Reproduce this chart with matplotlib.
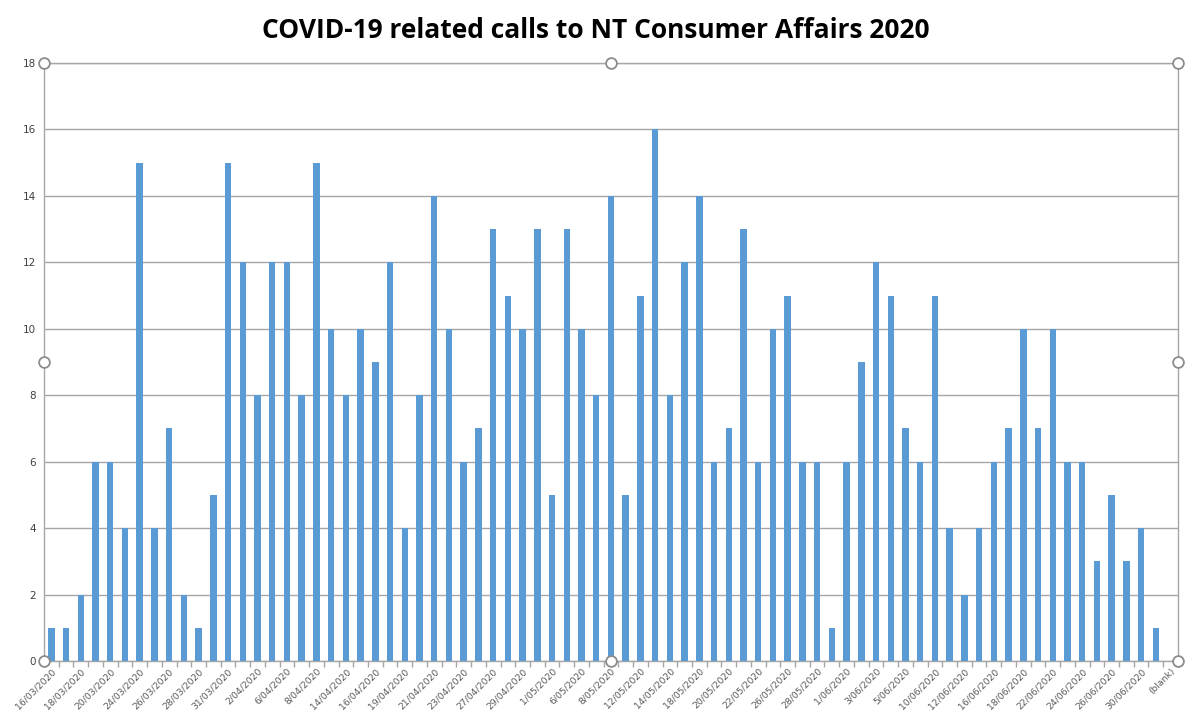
import matplotlib.pyplot as plt
import numpy as np

# calls per day (77 categories, the last one is "(blank)" with no count)
calls = [1, 1, 2, 6, 6, 4, 15, 4, 7, 2,
         1, 5, 15, 12, 8, 12, 12, 8, 15, 10,
         8, 10, 9, 12, 4, 8, 14, 10, 6, 7,
         13, 11, 10, 13, 5, 13, 10, 8, 14, 5,
         11, 16, 8, 12, 14, 6, 7, 13, 6, 10,
         11, 6, 6, 1, 6, 9, 12, 11, 7, 6,
         11, 4, 2, 4, 6, 7, 10, 7, 10, 6,
         6, 3, 5, 3, 4, 1, 0]

# only every other category is labelled on the axis
tick_labels = ['16/03/2020', '18/03/2020', '20/03/2020', '24/03/2020', '26/03/2020',
               '28/03/2020', '31/03/2020', '2/04/2020', '6/04/2020', '8/04/2020',
               '14/04/2020', '16/04/2020', '19/04/2020', '21/04/2020', '23/04/2020',
               '27/04/2020', '29/04/2020', '1/05/2020', '6/05/2020', '8/05/2020',
               '12/05/2020', '14/05/2020', '18/05/2020', '20/05/2020', '22/05/2020',
               '26/05/2020', '28/05/2020', '1/06/2020', '3/06/2020', '5/06/2020',
               '10/06/2020', '12/06/2020', '16/06/2020', '18/06/2020', '22/06/2020',
               '24/06/2020', '26/06/2020', '30/06/2020', '(blank)']

title = 'COVID-19 related calls to NT Consumer Affairs 2020'

n = len(calls)
x = np.arange(n)

fig = plt.figure(figsize=(11.92, 7.16), dpi=100)
ax = fig.add_axes([0.0369, 0.0768, 0.9513, 0.8352])

ax.bar(x, calls, width=0.44, color='#5B9BD5', zorder=3)

ax.set_xlim(-0.5, n - 0.5)
ax.set_ylim(0, 18)
ax.set_yticks(np.arange(0, 19, 2))
ax.yaxis.grid(True, color='#A6A6A6', linewidth=1.0, zorder=0)
ax.tick_params(axis='y', length=0, labelsize=7.5, labelcolor='#404040', pad=6)

ax.set_xticks(x[::2])
ax.set_xticklabels(tick_labels, rotation=45, ha='right', rotation_mode='anchor',
                   fontsize=6.7, color='#595959')
ax.set_xticks(np.arange(-0.5, n, 1), minor=True)
ax.tick_params(axis='x', which='major', length=0, pad=4)
ax.tick_params(axis='x', which='minor', length=4, color='#A6A6A6', width=1)

for side in ['left', 'right', 'bottom', 'top']:
    ax.spines[side].set_color('#A6A6A6')
    ax.spines[side].set_linewidth(1.0)

# selection handles around the plot area
hx = [0, 0.5, 1, 0, 1, 0, 0.5, 1]
hy = [1, 1, 1, 0.5, 0.5, 0, 0, 0]
ax.scatter(hx, hy, s=60, facecolor='white', edgecolor='#8C8C8C', linewidth=1.3,
           transform=ax.transAxes, clip_on=False, zorder=5)

fig.text(0.5, 0.958, title, ha='center', va='center', fontsize=19, fontweight='bold',
         family=['Liberation Sans Narrow', 'Open Sans', 'DejaVu Sans'], color='black')

fig.savefig('out.png', dpi=100, facecolor='white')
